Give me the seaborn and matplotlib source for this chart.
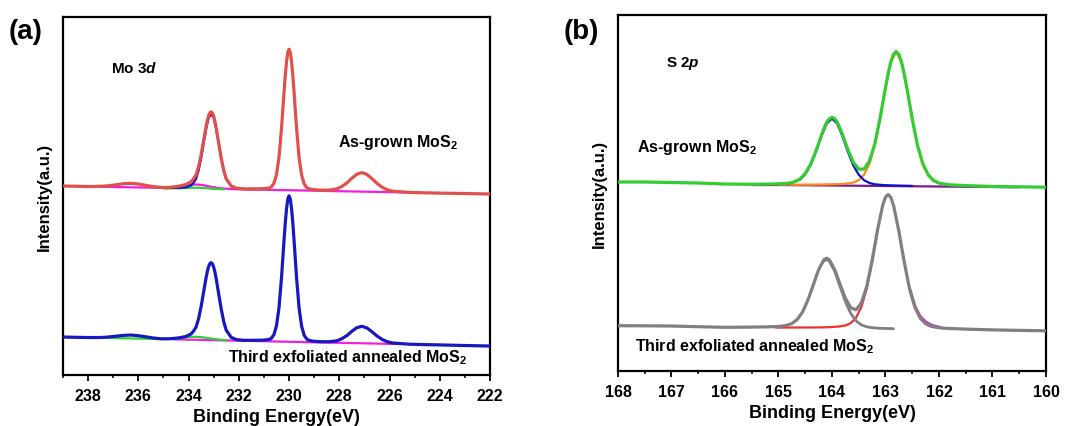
import matplotlib
matplotlib.use("Agg")
import matplotlib.pyplot as plt
from matplotlib.ticker import MultipleLocator
import seaborn as sns

# ---- Mo 3d panel (a) ----
mo_energy = [239.0, 238.5, 238.0, 237.5, 237.2, 236.9, 236.6, 236.3, 236.0, 235.7, 235.4, 235.1,
             234.8, 234.5, 234.3, 234.1, 233.9, 233.8, 233.7, 233.6, 233.5, 233.4, 233.3, 233.25, 233.2, 233.15,
             233.1, 233.05, 233.0, 232.95, 232.9, 232.8, 232.7, 232.6, 232.5, 232.3, 232.1, 231.8, 231.5, 231.2,
             231.0, 230.8, 230.7, 230.6, 230.5, 230.4, 230.3, 230.2, 230.15, 230.1, 230.05, 230.0, 229.95, 229.9, 229.85, 229.8,
             229.7, 229.6, 229.5, 229.4, 229.3, 229.2, 229.0, 228.7, 228.4, 228.1, 227.9, 227.7,
             227.5, 227.3, 227.1, 226.9, 226.7, 226.5, 226.3, 226.1, 225.9, 225.6, 225.2, 224.6,
             224.0, 223.0, 222.0]
mo_asgrown = [189.0, 188.8, 188.5, 188.7, 189.2, 190.2, 191.3, 191.7, 191.0, 189.6, 188.4, 187.6,
              187.5, 188.4, 189.3, 190.6, 193.3, 196.2, 200.3, 208.6, 220.4, 234.8, 249.0, 255.0, 259.7, 262.3,
              263.2, 261.9, 258.7, 253.5, 247.1, 231.9, 217.0, 204.6, 196.1, 189.0, 186.8, 186.1, 186.2, 186.2,
              186.4, 186.9, 188.2, 191.8, 200.4, 217.7, 246.8, 282.8, 299.6, 313.5, 322.6, 325.8, 322.6, 313.5, 299.5, 282.6,
              246.6, 217.3, 200.0, 191.2, 187.6, 186.1, 185.3, 184.8, 184.9, 186.1, 188.5, 192.0,
              196.8, 200.8, 202.4, 200.6, 196.4, 191.7, 187.9, 185.3, 183.9, 183.3, 182.6, 182.2,
              181.9, 181.5, 181.0]
mo_third = [38.0, 37.7, 37.5, 37.5, 38.0, 38.8, 39.6, 40.0, 39.3, 38.2, 37.0, 36.2,
            36.2, 36.8, 37.5, 38.6, 41.1, 44.0, 48.1, 56.5, 68.6, 83.3, 97.8, 103.9, 108.6, 111.5,
            112.4, 111.1, 107.8, 102.8, 96.3, 80.9, 65.9, 53.3, 44.7, 37.6, 35.4, 34.7, 34.7, 34.8,
            34.9, 35.5, 36.8, 40.5, 49.4, 67.3, 97.5, 134.7, 152.1, 166.5, 175.8, 179.2, 175.8, 166.4, 152.0, 134.4,
            97.2, 66.8, 48.9, 39.8, 36.1, 34.6, 33.7, 33.3, 33.3, 34.2, 36.3, 39.4,
            43.7, 47.3, 48.7, 47.1, 43.3, 39.1, 35.7, 33.4, 32.1, 31.5, 30.8, 30.4,
            30.1, 29.5, 29.0]

# fitted components, as-grown
mo_fit_e = [234.8, 234.5, 234.3, 234.1, 233.9, 233.8, 233.7, 233.6, 233.5, 233.4, 233.3, 233.2,
            233.1, 233.0, 232.9, 232.8, 232.7, 232.6, 232.5, 232.3, 232.1, 231.8, 231.5]
mo_fit_3d32 = [187.2, 187.2, 187.3, 187.7, 189.6, 192.3, 196.3, 204.7, 216.7, 231.4, 246.1, 257.2,
               261.2, 257.1, 245.9, 231.1, 216.4, 204.2, 195.8, 188.9, 186.8, 186.1, 185.8]
mo_bg_e = [237.5, 236.3, 235.1, 234.8, 234.5, 234.3, 234.1, 233.9, 233.8, 233.7, 233.6, 233.5,
           233.4, 233.3, 233.2, 233.1, 233.0, 232.9, 232.8, 232.7, 232.6, 232.5, 232.3, 232.1,
           231.5, 230.0, 228.4, 227.1, 225.2]
mo_bg_top = [188.3, 187.7, 187.2, 187.4, 188.1, 188.8, 189.6, 190.3, 190.5, 190.5, 190.4, 190.1,
             189.8, 189.2, 188.8, 188.2, 187.8, 187.3, 186.9, 186.7, 186.4, 186.3, 186.0, 185.8,
             185.5, 184.8, 184.0, 183.4, 182.5]
mo_ox_e_top = [235.0, 234.5, 234.1, 233.8, 233.5, 233.2, 232.9, 232.6]
mo_ox_top = [186.5, 186.6, 187.0, 187.3, 187.2, 186.6, 186.0, 185.8]

# fitted components, third exfoliated
mo_ox_e_bot = [237.3, 236.3, 235.3, 234.8, 234.5, 234.3, 234.1, 233.9, 233.7, 233.5, 233.3, 233.1,
               232.9, 232.7, 232.5]
mo_ox_bot = [37.1, 36.6, 36.0, 36.1, 36.5, 37.0, 37.6, 38.1, 38.2, 37.9, 37.2, 36.4, 35.7, 35.2, 34.8]
mo_bg_e_bot = [234.6, 233.0, 231.0, 229.0, 227.0, 225.7]
mo_bg_bot = [35.7, 34.8, 33.8, 32.7, 31.7, 31.0]

# ---- S 2p panel (b) ----
s_energy_top = [168.0, 167.5, 167.0, 166.5, 166.0, 165.5, 165.2, 165.0, 164.9, 164.8, 164.7, 164.6,
                164.5, 164.4, 164.3, 164.2, 164.15, 164.1, 164.05, 164.0, 163.95, 163.9, 163.85, 163.8,
                163.7, 163.6, 163.5, 163.4,
                163.3, 163.2, 163.1, 163.0, 162.95, 162.9, 162.85, 162.8, 162.75, 162.7, 162.65, 162.6,
                162.5, 162.4, 162.3, 162.2,
                162.1, 162.0, 161.9, 161.8, 161.6, 161.4, 161.2, 161.0, 160.5, 160.0]
s_asgrown = [189.0, 189.0, 188.5, 188.0, 187.0, 186.7, 186.9, 187.2, 187.5, 187.9, 189.1, 191.9,
             197.4, 206.6, 220.0, 235.3, 242.5, 248.5, 252.3, 253.7, 252.5, 248.6, 242.8, 235.8,
             221.2, 208.7, 201.9, 201.9,
             210.0, 227.0, 253.2, 283.5, 297.5, 309.2, 316.8, 319.5, 316.7, 308.9, 297.2, 283.0,
             252.2, 225.4, 207.0, 196.0,
             190.5, 187.9, 187.0, 186.2, 185.7, 185.2, 184.9, 184.6, 184.2, 183.8]
s_p12_e_top = [165.0, 164.8, 164.6, 164.5, 164.4, 164.3, 164.2, 164.1, 164.0, 163.9, 163.8, 163.7,
               163.6, 163.5, 163.4, 163.3, 163.2, 163.1, 163.0, 162.8, 162.5]
s_p12_top = [186.8, 187.5, 191.4, 196.8, 205.9, 219.2, 234.4, 247.4, 252.5, 247.3, 234.2, 218.9,
             205.5, 196.3, 190.8, 188.0, 186.7, 186.2, 185.8, 185.5, 185.1]
s_p32_e_top = [165.0, 164.6, 164.4, 164.2, 164.0, 163.8, 163.7, 163.6, 163.5, 163.4, 163.3, 163.2,
               163.1, 163.0, 162.9, 162.8, 162.7, 162.6, 162.5, 162.4, 162.3, 162.2, 162.1, 162.0,
               161.8, 161.4, 161.0]
s_p32_top = [186.4, 186.3, 186.4, 186.5, 186.7, 187.0, 187.7, 188.5, 190.9, 196.3, 207.2, 225.4,
             252.1, 282.7, 308.5, 318.9, 308.4, 282.5, 251.8, 225.0, 206.7, 195.7, 190.2, 187.7,
             186.0, 185.1, 184.5]
s_bg_e_top = [165.5, 165.0, 164.0, 163.0, 162.0, 161.0, 160.5]
s_bg_top = [186.0, 186.0, 185.5, 185.0, 184.5, 184.0, 183.75]

s_energy_bot = [168.0, 167.5, 167.0, 166.5, 166.0, 165.5, 165.25, 165.05, 164.95, 164.85, 164.75,
                164.65, 164.55, 164.45, 164.35, 164.25, 164.15, 164.1, 164.05, 163.95, 163.85, 163.75,
                163.65, 163.55, 163.45, 163.35, 163.25, 163.15, 163.05, 163.0, 162.95, 162.9, 162.85, 162.75,
                162.65, 162.55, 162.45, 162.35, 162.25, 162.15, 162.05, 161.95, 161.85, 161.65,
                161.45, 161.25, 161.05, 160.5, 160.0]
s_third = [45.3, 45.2, 45.0, 44.3, 43.7, 43.9, 44.1, 44.4, 44.8, 45.6, 47.5,
           51.5, 59.0, 70.8, 85.9, 101.3, 111.3, 112.8, 111.3, 101.6, 87.0, 72.8,
           63.3, 61.2, 68.2, 84.5, 110.4, 140.6, 166.1, 173.8, 176.5, 173.6, 165.8, 139.9,
           109.1, 82.2, 63.8, 52.8, 47.3, 44.7, 43.7, 43.0, 42.6, 42.2,
           41.8, 41.5, 41.2, 40.6, 40.2]
s_p12_e_bot = [164.15, 164.1, 164.05, 163.95, 163.85, 163.75, 163.65, 163.55, 163.45, 163.35, 163.25,
               163.15, 163.05, 162.85]
s_p12_bot = [110.1, 111.5, 110.0, 100.0, 84.7, 69.6, 57.7, 50.1, 46.1, 44.2, 43.3, 42.9, 42.6, 42.3]
s_p32_e_bot = [165.05, 164.65, 164.45, 164.25, 164.05, 163.85, 163.75, 163.65, 163.55, 163.45,
               163.35, 163.25, 163.15]
s_p32_bot = [43.4, 43.5, 43.5, 43.6, 43.8, 44.6, 45.5, 47.8, 53.2, 64.1, 82.3, 109.0, 139.6]
s_raw_e_bot = [162.55, 162.45, 162.35, 162.25, 162.15, 162.05, 161.95]
s_raw_bot = [82.7, 65.0, 54.6, 49.3, 46.2, 44.6, 43.4]

# Plot settings
sns.set_style("ticks")
plt.rcParams['font.family'] = ['Liberation Sans', 'DejaVu Sans']
plt.rcParams['font.weight'] = 'bold'
plt.rcParams['text.color'] = 'black'
plt.rcParams['axes.labelcolor'] = 'black'
plt.rcParams['axes.edgecolor'] = 'black'
plt.rcParams['xtick.color'] = 'black'
plt.rcParams['mathtext.fontset'] = 'custom'
plt.rcParams['mathtext.rm'] = 'Liberation Sans:bold'
plt.rcParams['mathtext.bf'] = 'Liberation Sans:bold'
plt.rcParams['mathtext.it'] = 'Liberation Sans:bold:italic'

fig = plt.figure(figsize=(10.79, 4.27), dpi=100)
ax1 = fig.add_axes([0.0584, 0.1194, 0.3957, 0.8384])
ax2 = fig.add_axes([0.5727, 0.1288, 0.3967, 0.8337])


def line(ax, x, y, color, lw=1.4, z=2):
    sns.lineplot(x=x, y=y, ax=ax, color=color, linewidth=lw, errorbar=None, zorder=z)


# panel (a)
line(ax1, mo_bg_e, mo_bg_top, '#f020e0', 1.6)
line(ax1, mo_ox_e_top, mo_ox_top, '#30d030', 1.6)
line(ax1, mo_fit_e, mo_fit_3d32, '#1010c8', 1.6)
line(ax1, mo_energy, mo_asgrown, '#e0504c', 2.3, 3)
line(ax1, mo_bg_e_bot, mo_bg_bot, '#f020e0', 1.6)
line(ax1, mo_ox_e_bot, mo_ox_bot, '#30d030', 1.6)
line(ax1, mo_energy, mo_third, '#1818c0', 2.3, 3)

ax1.set_xlim(239, 222)
ax1.set_ylim(0, 358)
ax1.xaxis.set_major_locator(MultipleLocator(2))
ax1.xaxis.set_minor_locator(MultipleLocator(1))
ax1.text(237.1, 308, r'Mo $\mathit{3d}$', fontsize=11, fontweight='bold', va='center')
ax1.text(228.05, 234, r'As-grown MoS$_\mathbf{2}$', fontsize=11.5, fontweight='bold', va='center')
ax1.text(232.45, 18, r'Third exfoliated annealed MoS$_\mathbf{2}$', fontsize=11.5,
         fontweight='bold', va='center')

# panel (b)
line(ax2, s_bg_e_top, s_bg_top, '#7a1a8a', 1.6)
line(ax2, s_p32_e_top, s_p32_top, '#ff8a20', 1.6)
line(ax2, s_p12_e_top, s_p12_top, '#1010c8', 1.6)
line(ax2, s_energy_top, s_asgrown, '#33cc33', 2.3, 3)
line(ax2, s_raw_e_bot, s_raw_bot, '#d030d0', 2.0)
line(ax2, s_p32_e_bot, s_p32_bot, '#ee3030', 1.6)
line(ax2, s_p12_e_bot, s_p12_bot, '#808080', 2.0, 3)
line(ax2, s_energy_bot, s_third, '#808080', 2.3, 3)

ax2.set_xlim(168, 160)
ax2.set_ylim(0, 356)
ax2.xaxis.set_major_locator(MultipleLocator(1))
ax2.xaxis.set_minor_locator(MultipleLocator(0.5))
ax2.text(167.1, 309, r'S $\mathit{2p}$', fontsize=11, fontweight='bold', va='center')
ax2.text(167.64, 225, r'As-grown MoS$_\mathbf{2}$', fontsize=11.5, fontweight='bold', va='center')
ax2.text(167.68, 25, r'Third exfoliated annealed MoS$_\mathbf{2}$', fontsize=11.5,
         fontweight='bold', va='center')

for ax in (ax1, ax2):
    ax.set_yticks([])
    ax.set_xlabel('Binding Energy(eV)', fontsize=13, fontweight='bold', labelpad=4)
    ax.set_ylabel('Intensity(a.u.)', fontsize=12, fontweight='bold', labelpad=8)
    ax.tick_params(axis='x', which='major', direction='out', length=4, width=1.3,
                   labelsize=11.5, pad=5, colors='black')
    ax.tick_params(axis='x', which='minor', direction='out', length=2.5, width=1.1, colors='black')
    for lbl in ax.get_xticklabels():
        lbl.set_fontweight('bold')
    for sp in ax.spines.values():
        sp.set_visible(True)
        sp.set_linewidth(1.6)
        sp.set_color('black')

fig.text(0.008, 0.925, '(a)', fontsize=20, fontweight='bold', va='center')
fig.text(0.522, 0.925, '(b)', fontsize=20, fontweight='bold', va='center')

fig.savefig('out.png', dpi=100)
